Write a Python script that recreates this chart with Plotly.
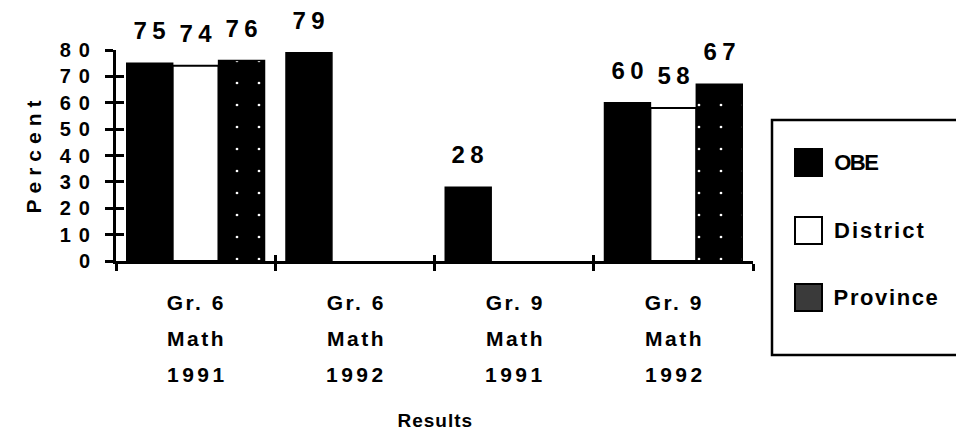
import json
import plotly.graph_objects as go

# Data
categories = ["Gr. 6 Math 1991", "Gr. 6 Math 1992", "Gr. 9 Math 1991", "Gr. 9 Math 1992"]
category_lines = [["Gr. 6", "Math", "1991"], ["Gr. 6", "Math", "1992"],
                  ["Gr. 9", "Math", "1991"], ["Gr. 9", "Math", "1992"]]
series_names = ["OBE", "District", "Province"]
obe = [75, 79, 28, 60]
district = [74, None, None, 58]
province = [76, None, None, 67]
y_ticks = [0, 10, 20, 30, 40, 50, 60, 70, 80]

FONT = "Liberation Sans, Arial, Helvetica, sans-serif"
BARGAP = 0.135

# Plot-area geometry (pixels) used for placing the hand-built legend
W_FIG, H_FIG = 956, 439
L, R, T, B = 116, 753, 50, 261
PW, PH = R - L, B - T


def px_x(px):
    return (px - L) / PW


def px_y(py):
    return (B - py) / PH


fig = go.Figure()

fig.add_trace(go.Bar(
    name="OBE", x=categories, y=obe,
    marker=dict(color="black", line=dict(color="black", width=1.5)),
))
fig.add_trace(go.Bar(
    name="District", x=categories, y=district,
    marker=dict(color="white", line=dict(color="black", width=2)),
))
fig.add_trace(go.Bar(
    name="Province", x=categories, y=province,
    marker=dict(color="black", line=dict(color="black", width=1.5),
                pattern=dict(shape=".", fgcolor="white", bgcolor="black",
                             size=22, solidity=0.012, fillmode="replace")),
))

# invisible helper trace so the overlaid axes (inner half of the crossing ticks) get drawn
fig.add_trace(go.Scatter(x=[categories[0]], y=[0], xaxis="x2", yaxis="y2",
                         mode="markers", marker=dict(opacity=0),
                         hoverinfo="skip", showlegend=False))

annotations = []
spacing = {}  # letter spacing (px) per annotation text

# value labels above the bars
bw = (1 - BARGAP) / 3
VAL_SP = 5.5
for i, vals in enumerate([obe, district, province]):
    for j, v in enumerate(vals):
        if v is None:
            continue
        annotations.append(dict(
            x=j + (i - 1) * bw, y=v, xref="x", yref="y",
            text=str(v), showarrow=False, yanchor="bottom", yshift=17,
            xshift=VAL_SP / 2,
            font=dict(family=FONT, size=24, color="black", weight="bold"),
        ))
        spacing[str(v)] = VAL_SP

# three-line category labels with wide line spacing
line_offsets = [41, 77, 113]
for j, lines in enumerate(category_lines):
    for k, txt in enumerate(lines):
        sp = 3.5 if txt.isdigit() else 2.5
        annotations.append(dict(
            x=j, y=0, xref="x", yref="paper", text=txt, showarrow=False,
            yanchor="middle", yshift=-line_offsets[k], xshift=sp / 2,
            font=dict(family=FONT, size=21, color="black", weight="bold"),
        ))
        spacing[txt] = sp

# axis titles
annotations.append(dict(
    x=0.5, y=0, xref="paper", yref="paper", text="Results", showarrow=False,
    yanchor="middle", yshift=-(420 - B), xshift=0.5,
    font=dict(family=FONT, size=19, color="black", weight="bold"),
))
spacing["Results"] = 1
annotations.append(dict(
    x=0, y=0.5, xref="paper", yref="paper", text="Percent", showarrow=False,
    xanchor="center", xshift=-(L - 33), yshift=1, textangle=-90,
    font=dict(family=FONT, size=21, color="black", weight="bold"),
))
spacing["Percent"] = 6

# legend: box, swatches and names
shapes = [dict(type="rect", xref="paper", yref="paper",
               x0=px_x(772), x1=px_x(965), y0=px_y(355), y1=px_y(120),
               line=dict(color="black", width=2.5), fillcolor="white", layer="above")]
legend_rows = [162, 230, 297]
swatch_fill = ["black", "white", "#3a3a3a"]
legend_spacing = [-1.5, 2.0, 1.6]
for name, row, fill, sp in zip(series_names, legend_rows, swatch_fill, legend_spacing):
    shapes.append(dict(type="rect", xref="paper", yref="paper",
                       x0=px_x(795), x1=px_x(822), y0=px_y(row + 14), y1=px_y(row - 13),
                       line=dict(color="black", width=2), fillcolor=fill, layer="above"))
    annotations.append(dict(
        x=px_x(832), y=px_y(row), xref="paper", yref="paper", text=name,
        showarrow=False, xanchor="left", yanchor="middle",
        xshift=len(name) * sp / 2,
        font=dict(family=FONT, size=22, color="black", weight="bold"),
    ))
    spacing[name] = sp

axis_common = dict(showgrid=False, zeroline=False)

fig.update_layout(
    width=W_FIG, height=H_FIG,
    margin=dict(l=L, r=W_FIG - R, t=T, b=H_FIG - B, pad=0),
    paper_bgcolor="white", plot_bgcolor="white",
    barmode="group", bargap=BARGAP, bargroupgap=0,
    showlegend=False,
    xaxis=dict(**axis_common, type="category", categoryarray=categories,
               showline=True, linecolor="black", linewidth=3,
               ticks="outside", tickson="boundaries", ticklen=7, tickwidth=2.5,
               tickcolor="black", showticklabels=False, range=[-0.5, 3.5]),
    xaxis2=dict(**axis_common, overlaying="x", matches="x", anchor="y2",
                ticks="inside", tickson="boundaries", ticklen=6, tickwidth=2.5,
                tickcolor="black", showticklabels=False, showline=False),
    yaxis=dict(**axis_common, range=[0, 80], tickvals=y_ticks,
               showline=True, linecolor="black", linewidth=3,
               ticks="outside", ticklen=8, tickwidth=2.5, tickcolor="black",
               ticklabelstandoff=3,
               tickfont=dict(family=FONT, size=20, color="black", weight="bold")),
    yaxis2=dict(**axis_common, overlaying="y", matches="y", anchor="x2",
                tickvals=y_ticks, ticks="inside", ticklen=8, tickwidth=2.5,
                tickcolor="black", showticklabels=False, showline=False),
    annotations=annotations,
    shapes=shapes,
)

# widen the letter spacing of the labels (typewriter-like tracking)
post_js = """
var sp = %s;
document.querySelectorAll('.ytick text').forEach(function (t) {
  t.style.letterSpacing = '8px';
});
document.querySelectorAll('text.annotation-text').forEach(function (t) {
  var s = sp[t.textContent];
  if (s !== undefined) { t.style.letterSpacing = s + 'px'; }
});
""" % json.dumps(spacing)

fig.write_html("out.html", post_script=post_js)
